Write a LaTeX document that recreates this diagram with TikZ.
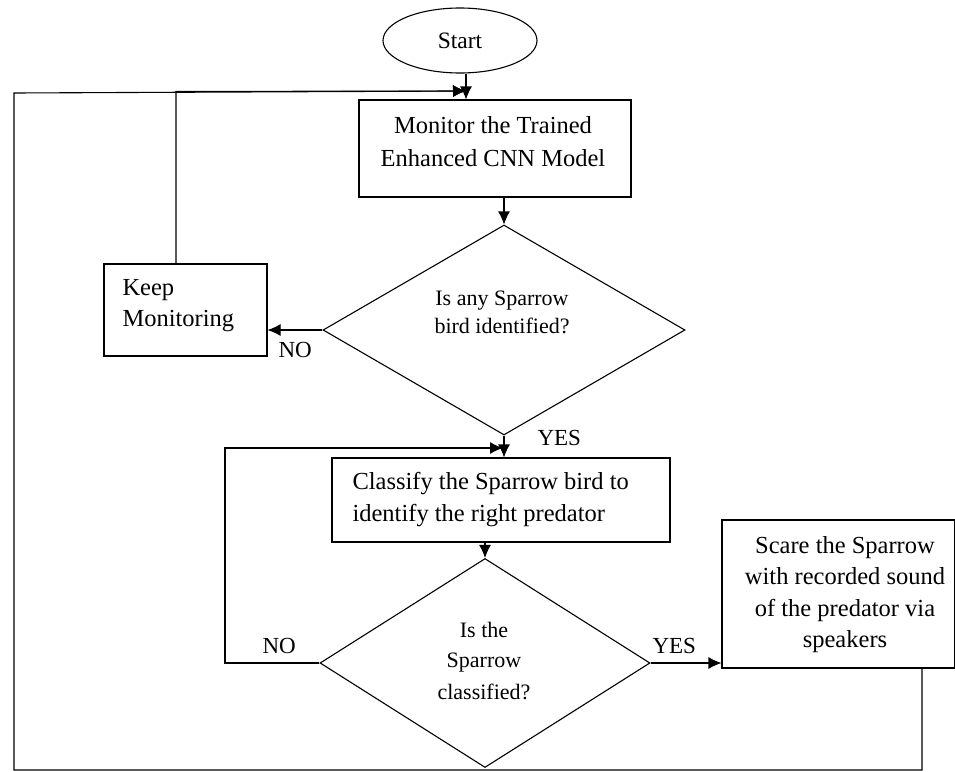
\documentclass[tikz,border=0pt]{standalone}
\usepackage{fontspec}
\setmainfont{Liberation Serif}
\usetikzlibrary{shapes.geometric,arrows.meta}
\begin{document}
\begin{tikzpicture}[x=1pt,y=-1pt,
  line width=1.1pt,
  box/.style={draw, rectangle, inner sep=0pt},
  dec/.style={draw, diamond, inner sep=0pt},
  txt/.style={font=\fontsize{24.5}{33}\selectfont, inner sep=0pt, anchor=base},
  ltxt/.style={font=\fontsize{24.5}{33}\selectfont, inner sep=0pt, anchor=base west},
  dtxt/.style={font=\fontsize{22}{30}\selectfont, inner sep=0pt, anchor=base},
  lbl/.style={font=\fontsize{23}{28}\selectfont, inner sep=0pt, anchor=base west},
  arr/.style={-{Latex[length=13pt,width=12pt]}}]
\useasboundingbox (0,0) rectangle (955,771);

% shapes
\node[draw, ellipse, minimum width=154pt, minimum height=65pt, inner sep=0pt,
      font=\fontsize{23.5}{28}\selectfont] (start) at (460,40.5) {Start};
\node[box, minimum width=272pt, minimum height=97pt] (monitor) at (495,148.5) {};
\node[box, minimum width=163pt, minimum height=92pt] (keep) at (185.5,310) {};
\node[dec, minimum width=362pt, minimum height=210pt] (d1) at (504,330) {};
\node[box, minimum width=338pt, minimum height=84pt] (classify) at (501,500) {};
\node[dec, minimum width=330pt, minimum height=209pt] (d2) at (485,663) {};
\node[box, minimum width=233pt, minimum height=148pt] (scare) at (838.5,594) {};

% texts
\node[txt] (m1) at (493,133) {Monitor the Trained};
\node[txt] (m2) at (493,166) {Enhanced CNN Model};
\node[ltxt] (k1) at (122,295) {Keep};
\node[ltxt] (k2) at (122,326) {Monitoring};
\node[dtxt] (q1a) at (502,305) {Is any Sparrow};
\node[dtxt] (q1b) at (502,333) {bird identified?};
\node[ltxt] (c1) at (352,489) {Classify the Sparrow bird to};
\node[ltxt] (c2) at (352,521) {identify the right predator};
\node[dtxt] (q2a) at (484,637) {Is the};
\node[dtxt] (q2b) at (484,667) {Sparrow};
\node[dtxt] (q2c) at (484,699) {classified?};
\node[txt] (s1) at (845,553) {Scare the Sparrow};
\node[txt] (s2) at (845,584) {with recorded sound};
\node[txt] (s3) at (845,616) {of the predator via};
\node[txt] (s4) at (845,647) {speakers};

% labels
\node[lbl] (no1) at (278,357) {NO};
\node[lbl] (yes1) at (537,445) {YES};
\node[lbl] (no2) at (262,653) {NO};
\node[lbl] (yes2) at (652,653) {YES};

% helper points
\coordinate (j1) at (466,91);
\coordinate (j2) at (503,448);
\coordinate (tl) at (14,93);
\coordinate (bl) at (14,770);
\coordinate (br) at (922,770);
\coordinate (kt) at (176,91.5);
\coordinate (cl) at (225,448);

% connectors
\draw[arr] (start.south -| j1) -- (j1 |- monitor.north);
\draw[arr] (monitor.south -| d1.north) -- (d1.north);
\draw[arr] (d1.west) -- (keep.east |- d1.west);
\draw[arr] (keep.north -| kt) -- (kt) -- (j1);
\draw[arr] (d1.south) -- (d1.south |- classify.north);
\draw[arr] (classify.south -| d2.north) -- (d2.north);
\draw[arr] (d2.east) -- (d2.east -| scare.west);
\draw[arr] (d2.west) -- (d2.west -| cl) -- (cl) -- (j2);
\draw[arr] (scare.south -| br) -- (br) -- (bl) -- (tl) -- (j1);
\end{tikzpicture}
\end{document}
